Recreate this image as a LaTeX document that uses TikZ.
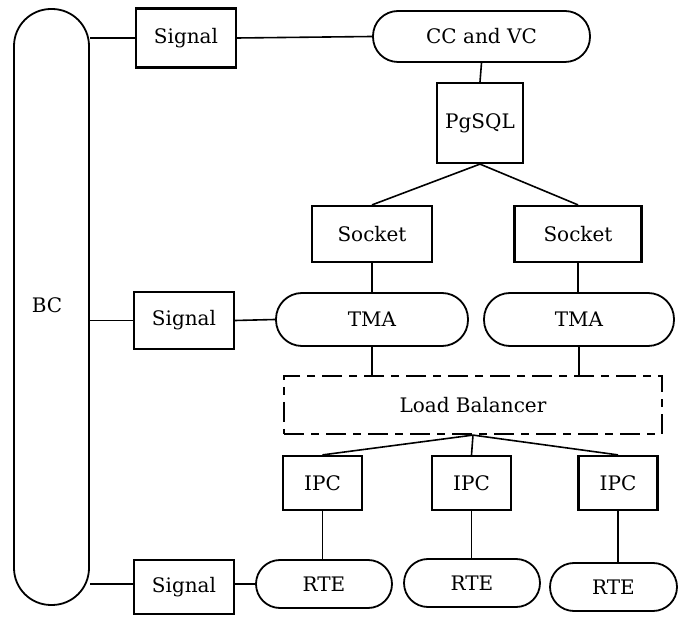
\documentclass[tikz,border=0pt]{standalone}
\usepackage{fontspec}
\setmainfont{DejaVu Serif}
\begin{document}
\begin{tikzpicture}[x=1pt,y=-1pt]
\tikzset{
  txt/.style={font=\fontsize{20}{24}\selectfont, inner sep=0pt, align=center},
  box/.style={txt, draw, line width=2.2pt},
  pill/.style={txt, draw, line width=1.8pt, rounded corners=#1},
  lbbox/.style={txt, draw, line width=2.2pt, dash pattern=on 20pt off 7pt on 8pt off 7pt},
  wire/.style={line width=1.6pt}
}
\useasboundingbox (0,0) rectangle (678,617);
% BC
\node[pill=37pt, minimum width=75pt, minimum height=596pt] (BC) at (51.5,307) {};
\node[txt] (BCt) at (47,305) {BC};
% nodes
\node[box, minimum width=100pt, minimum height=59pt] (sig1) at (186,38) {Signal};
\node[pill=25pt, minimum width=217pt, minimum height=51pt] (cc) at (481.5,36.5) {CC and VC};
\node[box, minimum width=86pt, minimum height=80pt] (pg) at (480,123) {PgSQL};
\node[box, minimum width=120pt, minimum height=56pt] (sk1) at (372,234) {Socket};
\node[box, minimum width=127pt, minimum height=56pt] (sk2) at (578,234) {Socket};
\node[box, minimum width=100pt, minimum height=57pt] (sig2) at (184,320.5) {Signal};
\node[pill=26pt, minimum width=192pt, minimum height=53pt] (tma1) at (372,319.5) {TMA};
\node[pill=26pt, minimum width=190pt, minimum height=53pt] (tma2) at (579,319.5) {TMA};
\node[lbbox, minimum width=378pt, minimum height=58pt] (lb) at (473,405) {Load Balancer};
\node[box, minimum width=79pt, minimum height=54pt] (ipc1) at (322.5,483) {IPC};
\node[box, minimum width=79pt, minimum height=54pt] (ipc2) at (471.5,483) {IPC};
\node[box, minimum width=79pt, minimum height=54pt] (ipc3) at (618,483) {IPC};
\node[box, minimum width=100pt, minimum height=54pt] (sig3) at (184,587) {Signal};
\node[pill=24pt, minimum width=136pt, minimum height=48pt] (rte1) at (324,584) {RTE};
\node[pill=24pt, minimum width=136pt, minimum height=48pt] (rte2) at (472,583) {RTE};
\node[pill=24pt, minimum width=127pt, minimum height=48pt] (rte3) at (613.5,587) {RTE};
% connectors
\draw[wire] (sig1.west) -- (sig1.west -| BC.east);
\draw[wire] (sig1.east) -- (cc.west);
\draw[wire] (cc.south) -- (pg.north);
\draw[wire] (pg.south) -- (sk1.north);
\draw[wire] (pg.south) -- (sk2.north);
\draw[wire] (sk1.south) -- (sk1.south |- tma1.north);
\draw[wire] (sk2.south) -- (sk2.south |- tma2.north);
\draw[wire] (sig2.west) -- (sig2.west -| BC.east);
\draw[wire] (sig2.east) -- (tma1.west);
\draw[wire] (tma1.south) -- (tma1.south |- lb.north);
\draw[wire] (tma2.south) -- (tma2.south |- lb.north);
\draw[wire] (lb.south) -- (ipc1.north);
\draw[wire] (lb.south) -- (ipc2.north);
\draw[wire] (lb.south) -- (ipc3.north);
\draw[wire] (ipc1.south) -- (ipc1.south |- rte1.north);
\draw[wire] (ipc2.south) -- (ipc2.south |- rte2.north);
\draw[wire] (ipc3.south) -- (ipc3.south |- rte3.north);
\draw[wire] (rte1.west -| sig3.west) -- (rte1.west -| BC.east);
\draw[wire] (rte1.west) -- (rte1.west -| sig3.east);
\end{tikzpicture}
\end{document}
